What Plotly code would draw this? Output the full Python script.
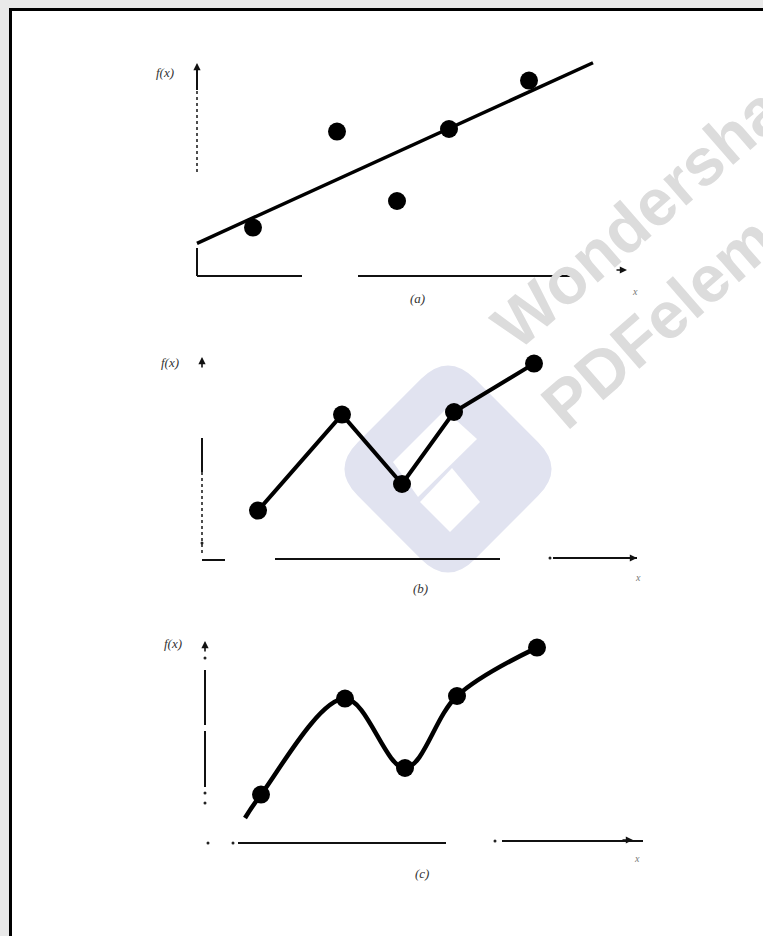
import numpy as np
import plotly.graph_objects as go

W, H = 763, 936

# ---------------- data ----------------
x_pts = [1.4, 3.5, 5.0, 6.3, 8.3]
y_pts = [2.42, 7.22, 3.75, 7.35, 9.77]
curve_start_x = [1.0]          # where the interpolating curve in (c) begins
curve_start_y = [1.25]
fit_x_span = [0.0, 9.9]        # extent of the least-squares line in (a)
panel_labels = ["(a)", "(b)", "(c)"]
y_label = "f(x)"
x_label = "x"

# ---------------- layout helpers ----------------
XR = [-1.5, 11.5]
YR = [-2.0, 11.5]
SX, SY = 40.0, 20.0
origins = [(197, 276), (202, 559), (205, 843)]  # pixel position of each panel's origin


def domains(ox, oy):
    x0 = (ox + XR[0] * SX) / W
    x1 = (ox + XR[1] * SX) / W
    yb = 1 - (oy - YR[0] * SY) / H
    yt = 1 - (oy - YR[1] * SY) / H
    return [x0, x1], [yb, yt]


def pp(x, y):
    return x / W, 1 - y / H


def rounded_path(pts, r):
    pts = [np.array(p, float) for p in pts]
    n = len(pts)
    seg = []
    for i in range(n):
        v = pts[i]
        p = pts[i - 1]
        q = pts[(i + 1) % n]
        a = v + (p - v) * r / np.linalg.norm(p - v)
        b = v + (q - v) * r / np.linalg.norm(q - v)
        A, V, B = pp(*a), pp(*v), pp(*b)
        seg.append((A, V, B))
    d = "M %.5f,%.5f " % seg[0][0]
    for i, (A, V, B) in enumerate(seg):
        if i > 0:
            d += "L %.5f,%.5f " % A
        d += "Q %.5f,%.5f %.5f,%.5f " % (V[0], V[1], B[0], B[1])
    d += "Z"
    return d


def poly_path(pts):
    d = ""
    for i, (x, y) in enumerate(pts):
        px, py = pp(x, y)
        d += ("M" if i == 0 else "L") + " %.5f,%.5f " % (px, py)
    return d + "Z"


fig = go.Figure()
shapes = []
annotations = []

# page: gray surround with white sheet bordered in black
shapes.append(dict(type="rect", xref="paper", yref="paper",
                   x0=10.5 / W, x1=1.2, y0=-0.2, y1=1 - 9.5 / H,
                   fillcolor="white", line=dict(color="black", width=3), layer="below"))

# watermark logo (rounded diamond with white cut-outs)
cx, cy, hd = 448, 469, 117
shapes.append(dict(type="path", xref="paper", yref="paper", layer="below",
                   path=rounded_path([(cx, cy - hd), (cx + hd, cy), (cx, cy + hd), (cx - hd, cy)], 38),
                   fillcolor="#e1e3f0", line=dict(width=0)))
shapes.append(dict(type="path", xref="paper", yref="paper", layer="below",
                   path=poly_path([(393, 462), (445, 410), (477, 439), (418, 497)]),
                   fillcolor="white", line=dict(width=0)))
shapes.append(dict(type="path", xref="paper", yref="paper", layer="below",
                   path=poly_path([(420, 502), (452, 468), (480, 502), (450, 532)]),
                   fillcolor="white", line=dict(width=0)))

# axis decorations for each panel (data units)
axes_solid = [
    [((0, 0), (0, 1.4)), ((0, 9.3), (0, 10.55)), ((0, 0), (2.625, 0)), ((4.025, 0), (9.5, 0))],
    [((0, 4.35), (0, 6.05)), ((0, -0.05), (0.575, -0.05)), ((1.825, 0), (7.45, 0)), ((8.775, 0.05), (10.875, 0.05))],
    [((0, 2.8), (0, 5.6)), ((0, 5.9), (0, 8.65)), ((0.825, 0), (6.025, 0)), ((7.425, 0.1), (10.95, 0.1))],
]
axes_dotted = [
    [((0, 5.2), (0, 9.3))],
    [((0, 0.3), (0, 4.35))],
    [],
]
axes_dots = [
    ([], []),
    ([0, 8.7], [0.8, 0.05]),
    ([0, 0, 0, 0.075, 0.7, 7.25], [9.25, 2.5, 2.0, 0, 0, 0.1]),
]
y_tips = [10.65, 10.1, 10.1]
x_tips = [(10.75, 0.3), (10.875, 0.05), (10.7, 0.15)]
ylab_pos = [(-0.8, 10.2), (-0.8, 9.85), (-0.8, 10.0)]
plab_pos = [(5.5, -1.1), (5.45, -1.45), (5.43, -1.5)]
xlab_pos = [(10.95, -0.75), (10.9, -0.9), (10.8, -0.75)]

for i, (ox, oy) in enumerate(origins):
    k = "" if i == 0 else str(i + 1)
    xd, yd = domains(ox, oy)
    fig.layout["xaxis" + k] = dict(domain=xd, range=XR, visible=False, fixedrange=True,
                                   anchor="y" + k)
    fig.layout["yaxis" + k] = dict(domain=yd, range=YR, visible=False, fixedrange=True,
                                   anchor="x" + k)
    xr, yr = "x" + k, "y" + k
    for (a, b) in axes_solid[i]:
        shapes.append(dict(type="line", xref=xr, yref=yr, x0=a[0], y0=a[1], x1=b[0], y1=b[1],
                           line=dict(color="#111", width=2)))
    for (a, b) in axes_dotted[i]:
        shapes.append(dict(type="line", xref=xr, yref=yr, x0=a[0], y0=a[1], x1=b[0], y1=b[1],
                           line=dict(color="#222", width=1.6, dash="dot")))
    if axes_dots[i][0]:
        fig.add_trace(go.Scatter(x=axes_dots[i][0], y=axes_dots[i][1], mode="markers",
                                 marker=dict(size=3, color="#222"), xaxis=xr, yaxis=yr,
                                 hoverinfo="skip", showlegend=False))
    # arrow tips
    annotations.append(dict(x=0, y=y_tips[i], ax=0, ay=y_tips[i] - 0.6, xref=xr, yref=yr,
                            axref=xr, ayref=yr, text="", showarrow=True, arrowhead=2,
                            arrowsize=0.9, arrowwidth=1.6, arrowcolor="#111"))
    tx, ty = x_tips[i]
    annotations.append(dict(x=tx, y=ty, ax=tx - 0.3, ay=ty, xref=xr, yref=yr,
                            axref=xr, ayref=yr, text="", showarrow=True, arrowhead=2,
                            arrowsize=0.9, arrowwidth=1.6, arrowcolor="#111"))
    # labels
    annotations.append(dict(x=ylab_pos[i][0], y=ylab_pos[i][1], xref=xr, yref=yr, text=y_label,
                            showarrow=False, xanchor="center", yanchor="middle",
                            font=dict(family="Liberation Serif", size=13, color="#333", style="italic")))
    annotations.append(dict(x=plab_pos[i][0], y=plab_pos[i][1], xref=xr, yref=yr, text=panel_labels[i],
                            showarrow=False, xanchor="center", yanchor="middle",
                            font=dict(family="Liberation Serif", size=13, color="#333", style="italic")))
    annotations.append(dict(x=xlab_pos[i][0], y=xlab_pos[i][1], xref=xr, yref=yr, text=x_label,
                            showarrow=False, xanchor="center", yanchor="middle",
                            font=dict(family="Liberation Serif", size=10, color="#777", style="italic")))

# (a) least-squares straight line with the scattered points
slope, icpt = np.polyfit(x_pts, y_pts, 1)
fx = np.array(fit_x_span)
fig.add_trace(go.Scatter(x=fx, y=slope * fx + icpt, mode="lines",
                         line=dict(color="black", width=3.5), xaxis="x", yaxis="y",
                         hoverinfo="skip", showlegend=False))
fig.add_trace(go.Scatter(x=x_pts, y=y_pts, mode="markers",
                         marker=dict(size=18, color="black"), xaxis="x", yaxis="y",
                         showlegend=False))

# (b) linear interpolation
fig.add_trace(go.Scatter(x=x_pts, y=y_pts, mode="lines+markers",
                         line=dict(color="black", width=4),
                         marker=dict(size=18, color="black"), xaxis="x2", yaxis="y2",
                         showlegend=False))

# (c) curvilinear interpolation
fig.add_trace(go.Scatter(x=curve_start_x + x_pts, y=curve_start_y + y_pts, mode="lines",
                         line=dict(color="black", width=4.5, shape="spline", smoothing=1.0),
                         xaxis="x3", yaxis="y3", hoverinfo="skip", showlegend=False))
fig.add_trace(go.Scatter(x=x_pts, y=y_pts, mode="markers",
                         marker=dict(size=18, color="black"), xaxis="x3", yaxis="y3",
                         showlegend=False))

# watermark text
x1, y1 = pp(661, 197)
x2, y2 = pp(695, 290)
for (tx, ty, t) in [(x1, y1, "Wondershare"), (x2, y2, "PDFelement")]:
    annotations.append(dict(x=tx, y=ty, xref="paper", yref="paper", text=t, showarrow=False,
                            textangle=-41, xanchor="center", yanchor="middle",
                            font=dict(family="Liberation Sans", size=66, color="#dcdcdc",
                                      weight="bold")))

fig.update_layout(width=W, height=H, margin=dict(l=0, r=0, t=0, b=0),
                  paper_bgcolor="#e9e9e9", plot_bgcolor="rgba(0,0,0,0)",
                  shapes=shapes, annotations=annotations, showlegend=False)

fig.write_html("out.html",
               config={"displayModeBar": False},
               post_script="document.body.style.margin='0';"
                           "document.body.style.overflow='hidden';"
                           "document.body.style.background='#e9e9e9';")
